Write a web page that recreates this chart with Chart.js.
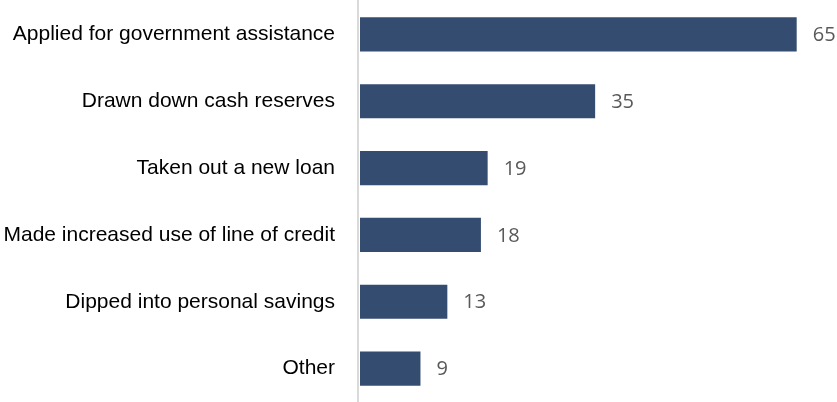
<!DOCTYPE html>
<html>
<head>
<meta charset="utf-8">
<script src="https://cdn.jsdelivr.net/npm/chart.js@4"></script>
<style>
  html, body { margin: 0; padding: 0; background: #fff; }
  #wrap { width: 837px; height: 402px; position: relative; }
</style>
</head>
<body>
<div id="wrap"><canvas id="grafico"></canvas></div>
<script>
const categorias = [
    'Applied for government assistance',
    'Drawn down cash reserves',
    'Taken out a new loan',
    'Made increased use of line of credit',
    'Dipped into personal savings',
    'Other'
];
const valores = [65, 35, 19, 18, 13, 9];

// escreve o valor ao lado de cada barra
const rotuloValores = {
    id: 'rotuloValores',
    afterDatasetsDraw(chart) {
        const ctx = chart.ctx;
        const meta = chart.getDatasetMeta(0);
        ctx.save();
        ctx.font = '20px "Open Sans"';
        ctx.fillStyle = '#595959';
        ctx.textAlign = 'left';
        ctx.textBaseline = 'middle';
        meta.data.forEach((bar, i) => {
            ctx.fillText(String(valores[i]), bar.x + 16, bar.y + 1);
        });
        ctx.restore();
    }
};

// linha vertical do eixo em toda a altura
const linhaEixo = {
    id: 'linhaEixo',
    beforeDatasetsDraw(chart) {
        const ctx = chart.ctx;
        const x = chart.chartArea.left - 2;
        ctx.save();
        ctx.strokeStyle = '#d9d9d9';
        ctx.lineWidth = 2;
        ctx.beginPath();
        ctx.moveTo(x, 0);
        ctx.lineTo(x, chart.height);
        ctx.stroke();
        ctx.restore();
    }
};

const ctx = document.getElementById('grafico').getContext('2d');
new Chart(ctx, {
    type: 'bar',
    data: {
        labels: categorias,
        datasets: [{
            data: valores,
            backgroundColor: '#344c70',
            borderWidth: 0,
            barPercentage: 0.51,
            categoryPercentage: 1
        }]
    },
    options: {
        indexAxis: 'y',
        responsive: true,
        maintainAspectRatio: false,
        animation: false,
        layout: { padding: { top: 1, bottom: -3, left: 0, right: 0 } },
        scales: {
            x: {
                min: 0,
                max: 71,
                display: false
            },
            y: {
                afterFit(axis) {
                    axis.width = 360;
                    axis.paddingTop = 0;
                    axis.paddingBottom = 0;
                },
                grid: { display: false, drawTicks: false },
                border: { display: false },
                ticks: {
                    color: '#000',
                    padding: 25,
                    font: { family: '"Liberation Sans", Arial, sans-serif', size: 21 }
                }
            }
        },
        plugins: { legend: { display: false }, tooltip: { enabled: false } }
    },
    plugins: [rotuloValores, linhaEixo]
});
</script>
</body>
</html>
